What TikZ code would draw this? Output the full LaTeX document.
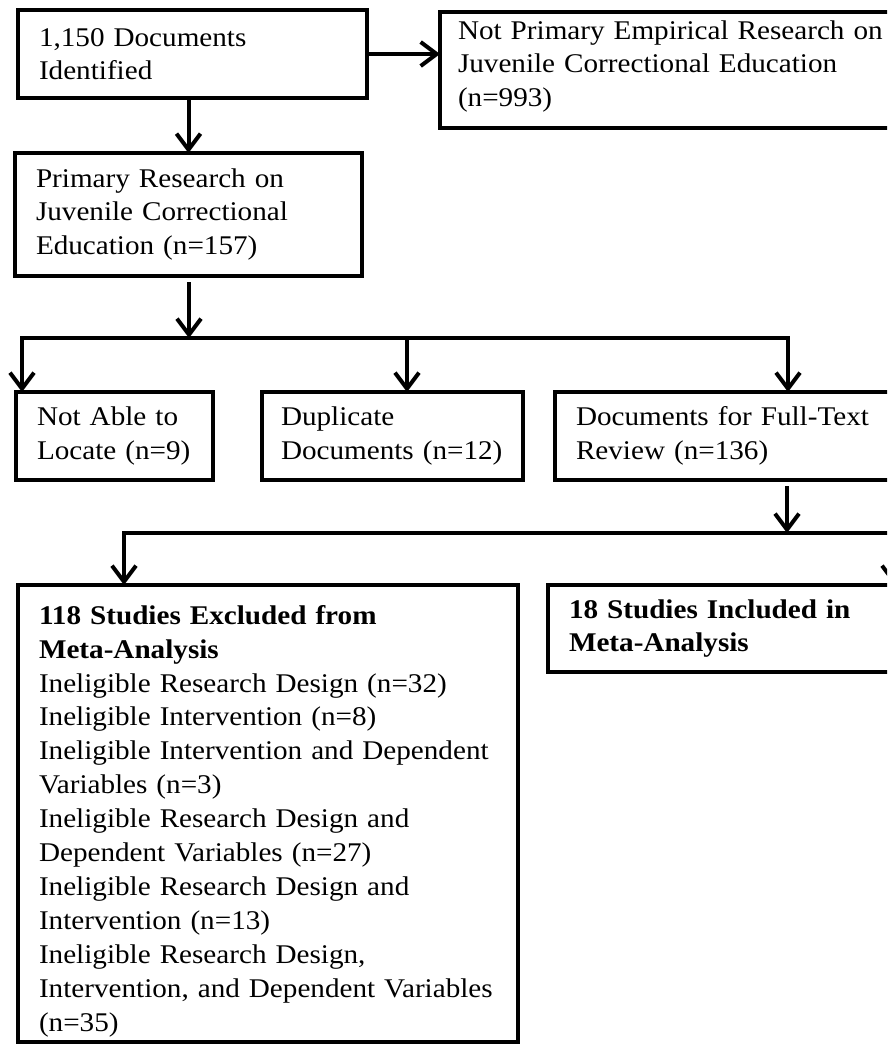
\documentclass[tikz,border=0pt]{standalone}
\usepackage{fontspec}
\setmainfont{Liberation Serif}[FakeStretch=1.08]
\usetikzlibrary{arrows.meta}
\tikzset{
  box/.style={draw, line width=4.5pt, rectangle, anchor=north west, align=left,
    inner xsep=21pt, inner ysep=0pt, outer sep=0pt,
    font=\fontsize{27}{33.5}\selectfont},
  conn/.style={line width=4pt},
  tip/.style={-{Straight Barb[length=16pt,width=24pt]}},
  arr/.style={conn, tip},
  twoarr/.style={conn, {Straight Barb[length=16pt,width=24pt]}-{Straight Barb[length=16pt,width=24pt]}},
}
\begin{document}
\begin{tikzpicture}[x=1pt,y=-1pt]
\useasboundingbox (0,0) rectangle (887,1045);
\clip (0,0) rectangle (887,1045);

\node[box, minimum width=349pt, minimum height=88pt, text width=307pt] (b1) at (18,10)
  {1,150 Documents\\Identified};
\node[box, minimum width=470pt, minimum height=116pt, inner xsep=18pt, text width=434pt, text depth=80pt] (b2) at (440,12)
  {Not Primary Empirical Research on\\Juvenile Correctional Education\\(n=993)};
\node[box, minimum width=347pt, minimum height=123pt, text width=305pt] (b3) at (15,153)
  {Primary Research on\\Juvenile Correctional\\Education (n=157)};
\node[box, minimum width=197pt, minimum height=88pt, text width=155pt] (b4) at (16,392)
  {Not Able to\\Locate (n=9)};
\node[box, minimum width=261pt, minimum height=88pt, inner xsep=19pt, text width=223pt] (b5) at (262,392)
  {Duplicate\\Documents~(n=12)};
\node[box, minimum width=360pt, minimum height=88pt, text width=318pt] (b6) at (555,392)
  {Documents for Full-Text\\Review (n=136)};
\node[box, minimum width=500pt, minimum height=457pt, text width=458pt,
      font=\fontsize{27}{33.9}\selectfont] (b7) at (18,585)
  {\rule{0pt}{34pt}\textbf{118 Studies Excluded from}\\\textbf{Meta-Analysis}\\
   Ineligible Research Design (n=32)\\
   Ineligible Intervention (n=8)\\
   Ineligible Intervention and Dependent\\
   Variables (n=3)\\
   Ineligible Research Design and\\
   Dependent Variables (n=27)\\
   Ineligible Research Design and\\
   Intervention (n=13)\\
   Ineligible Research Design,\\
   Intervention, and Dependent Variables\\
   (n=35)};
\node[box, minimum width=360pt, minimum height=87pt, text width=318pt] (b8) at (548,585)
  {\textbf{18 Studies Included in}\\\textbf{Meta-Analysis}};

% connectors
\draw[arr] (b1.east) -- (b2.west |- b1.east);
\draw[arr] (b3.north |- b1.south) -- (b3.north);

\coordinate (j1) at (189,338);
\coordinate (jL) at (22,338);
\coordinate (jM) at (407,338);
\coordinate (jR) at (788,338);
\draw[arr, shorten <=6pt] (b3.south -| j1) -- (j1);
\draw[twoarr] (jL |- b4.north) -- (jL) -- (jR) -- (jR |- b6.north);
\draw[arr] (jM) -- (jM |- b5.north);

\coordinate (j2) at (787,533);
\coordinate (kL) at (124,533);
\coordinate (kR) at (894,533);
\draw[arr, shorten <=6pt] (b6.south -| j2) -- (j2);
\draw[twoarr] (kL |- b7.north) -- (kL) -- (kR) -- (kR |- b8.north);
\end{tikzpicture}
\end{document}
